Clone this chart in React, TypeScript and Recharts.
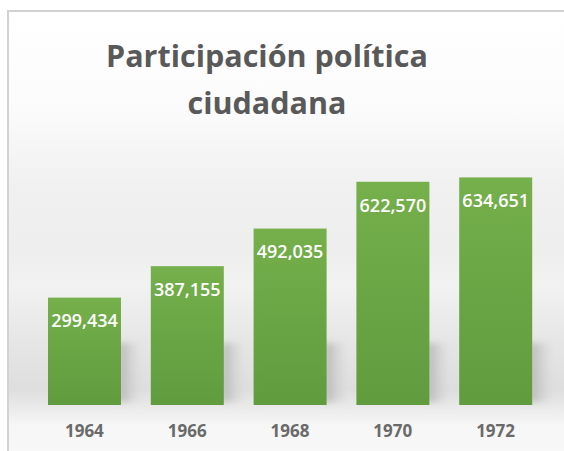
import { BarChart, Bar, XAxis, YAxis, LabelList } from "recharts";

const years = ["1964", "1966", "1968", "1970", "1972"];
const participants = [299434, 387155, 492035, 622570, 634651];

const data = years.map((year, i) => ({ year, value: participants[i] }));

const fmt = (v: number) => v.toLocaleString("en-US");

function BarWithShadow(props: any) {
  const { x, y, width, height } = props;
  const bottom = y + height;
  const sh = Math.min(62, height);
  return (
    <g>
      <rect
        x={x + width - 2}
        y={bottom - sh}
        width={24}
        height={sh - 3}
        fill="url(#shadowGrad)"
        filter="url(#blur)"
      />
      <rect x={x} y={y} width={width} height={height} fill="url(#barGrad)" />
    </g>
  );
}

function YearTick(props: any) {
  const { x, y, payload } = props;
  return (
    <text
      x={x}
      y={y}
      dy={24}
      textAnchor="middle"
      fill="#6a6a6a"
      fontSize={17}
      fontWeight="bold"
      fontFamily="'Open Sans', sans-serif"
    >
      {payload.value}
    </text>
  );
}

export default function App() {
  return (
    <div
      style={{
        position: "fixed",
        left: 7,
        top: 10,
        right: 0,
        bottom: 0,
        boxSizing: "border-box",
        borderTop: "2px solid #d2d2d2",
        borderLeft: "2px solid #d2d2d2",
        overflow: "hidden",
        background:
          "linear-gradient(to bottom, #ffffff 0%, #fbfbfb 22%, #f0f0f0 40%, #eeeeee 55%, #f2f2f2 62%, #e6e6e6 75%, #dedede 86%, #eaeaea 90%, #f6f6f6 94%, #f8f8f8 100%)",
        fontFamily: "'Open Sans', sans-serif",
      }}
    >
      <div
        style={{
          position: "absolute",
          left: 0,
          top: 20,
          width: 516,
          textAlign: "center",
          fontSize: 30.5,
          lineHeight: "47px",
          fontWeight: "bold",
          color: "#595959",
        }}
      >
        Participación política
        <br />
        ciudadana
      </div>
      <div style={{ position: "absolute", left: 0, top: 0 }}>
        <BarChart
          width={548}
          height={439}
          data={data}
          margin={{ top: 142, right: 10, bottom: 0, left: 24 }}
          accessibilityLayer={false}
        >
          <defs>
            <linearGradient id="barGrad" x1="0" y1="0" x2="0" y2="1">
              <stop offset="0%" stopColor="#75b04c" />
              <stop offset="100%" stopColor="#609b3e" />
            </linearGradient>
            <linearGradient id="shadowGrad" x1="0" y1="0" x2="1" y2="0">
              <stop offset="0%" stopColor="#b0b0b0" stopOpacity={0.95} />
              <stop offset="100%" stopColor="#d8d8d8" stopOpacity={0} />
            </linearGradient>
            <filter id="blur" x="-20%" y="-20%" width="140%" height="140%">
              <feGaussianBlur stdDeviation="3" />
            </filter>
          </defs>
          <XAxis
            dataKey="year"
            axisLine={false}
            tickLine={false}
            height={46}
            tick={<YearTick />}
            interval={0}
          />
          <YAxis hide domain={[0, 700000]} />
          <Bar
            dataKey="value"
            barSize={73}
            isAnimationActive={false}
            shape={<BarWithShadow />}
          >
            <LabelList
              dataKey="value"
              position="insideTop"
              offset={17}
              formatter={(v: any) => fmt(Number(v))}
              fill="#ffffff"
              fontSize={18}
              fontWeight={600}
              fontFamily="'Open Sans', sans-serif"
            />
          </Bar>
        </BarChart>
      </div>
    </div>
  );
}
